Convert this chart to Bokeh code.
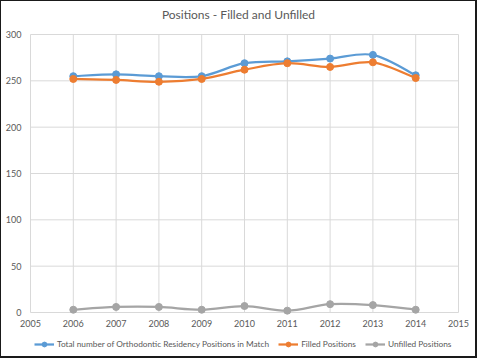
from bokeh.plotting import figure
from bokeh.models import Legend, LegendItem, Range1d, Label
from bokeh.embed import file_html
from bokeh.resources import INLINE

years = [2006, 2007, 2008, 2009, 2010, 2011, 2012, 2013, 2014]
total_positions = [255, 257, 255, 255, 269, 271, 274, 278, 256]
filled_positions = [252, 251, 249, 252, 262, 269, 265, 270, 253]
unfilled_positions = [3, 6, 6, 3, 7, 2, 9, 8, 3]
series_names = ["Total number of Orthodontic Residency Positions in Match",
                "Filled Positions", "Unfilled Positions"]
series_colors = ["#5B9BD5", "#ED7D31", "#A5A5A5"]
x_ticks = list(range(2005, 2016))
y_ticks = list(range(0, 301, 50))
x_tick_labels = [str(t) for t in x_ticks]
y_tick_labels = [str(t) for t in y_ticks]
title_text = "Positions - Filled and Unfilled"

FONT = "Lato"
TXT = "#595959"
GRID = "#D9D9D9"

W, H = 478, 359
L, R, T, B = 31, 19, 35, 46  # plot-area margins in px
x0, x1 = x_ticks[0], x_ticks[-1]
y0, y1 = y_ticks[0], y_ticks[-1]
sx = (x1 - x0) / (W - L - R)
sy = (y1 - y0) / (H - T - B)

p = figure(width=W, height=H, output_backend="svg", toolbar_location=None,
           x_range=Range1d(x0 - L * sx, x1 + R * sx),
           y_range=Range1d(y0 - B * sy, y1 + T * sy),
           min_border=0, margin=(-1, -1, -1, -1))
p.xaxis.visible = False
p.yaxis.visible = False
p.grid.visible = False
p.outline_line_color = "#1a1a1a"
p.outline_line_width = 3

# gridlines built from the tick lists
p.segment(x0=x_ticks, y0=[y0] * len(x_ticks), x1=x_ticks, y1=[y1] * len(x_ticks),
          line_color=GRID, line_width=1)
p.segment(x0=[x0] * len(y_ticks), y0=y_ticks, x1=[x1] * len(y_ticks), y1=y_ticks,
          line_color=GRID, line_width=1)

# tick labels
p.text(x=[x0] * len(y_ticks), y=y_ticks, text=y_tick_labels, x_offset=-9,
       text_align="right", text_baseline="middle", text_font_size="9px",
       text_color=TXT, text_font={"value": FONT})
p.text(x=x_ticks, y=[y0] * len(x_ticks), text=x_tick_labels, y_offset=11,
       text_align="center", text_baseline="middle", text_font_size="9px",
       text_color=TXT, text_font={"value": FONT})

p.add_layout(Label(x=W / 2, y=H - 15, x_units="screen", y_units="screen", text=title_text,
                   text_align="center", text_baseline="middle", text_font=FONT,
                   text_font_size="12px", text_color=TXT))


def ctrl(xs, ys):
    n = len(xs)
    out = dict(x0=[], y0=[], x1=[], y1=[], cx0=[], cy0=[], cx1=[], cy1=[])
    for i in range(n - 1):
        pm = i - 1 if i > 0 else i
        pp = i + 2 if i + 2 < n else i + 1
        out["x0"].append(xs[i]); out["y0"].append(ys[i])
        out["x1"].append(xs[i + 1]); out["y1"].append(ys[i + 1])
        out["cx0"].append(xs[i] + (xs[i + 1] - xs[pm]) / 6)
        out["cy0"].append(ys[i] + (ys[i + 1] - ys[pm]) / 6)
        out["cx1"].append(xs[i + 1] - (xs[pp] - xs[i]) / 6)
        out["cy1"].append(ys[i + 1] - (ys[pp] - ys[i]) / 6)
    return out


items = []
for name, vals, col in zip(series_names, [total_positions, filled_positions, unfilled_positions], series_colors):
    r1 = p.bezier(**ctrl(years, vals), line_color=col, line_width=2.25)
    r2 = p.scatter(years, vals, size=7, fill_color=col, line_color=col)
    items.append(LegendItem(label=name, renderers=[r1, r2]))

leg = Legend(items=items, orientation="horizontal", location=(35, 8),
             label_text_font=FONT, label_text_font_size="8.3px", label_text_color=TXT,
             glyph_width=20, glyph_height=12, label_standoff=3, spacing=9,
             padding=0, margin=0, border_line_color=None, background_fill_alpha=0,
             label_height=12)
p.add_layout(leg, "center")

open("out.html", "w").write(file_html(p, INLINE))
